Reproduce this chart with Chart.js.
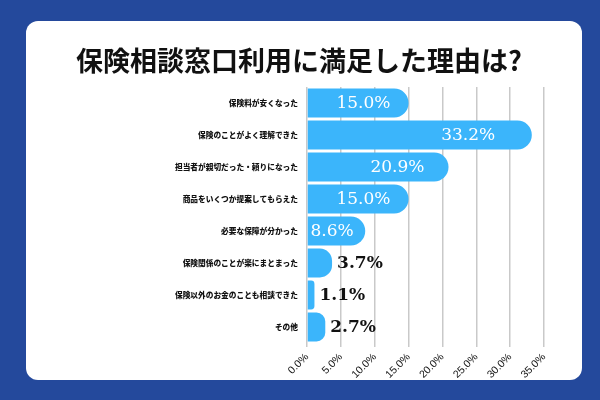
<!DOCTYPE html>
<html>
<head>
<meta charset="utf-8">
<script src="https://cdn.jsdelivr.net/npm/chart.js@4/dist/chart.umd.min.js"></script>
<style>
  html, body { margin: 0; padding: 0; background: #24499c; }
  #wrap { width: 600px; height: 400px; }
</style>
</head>
<body>
<div id="wrap"><canvas id="c" width="600" height="400"></canvas></div>
<script>
// データ
const reasons = [
  '保険料が安くなった',
  '保険のことがよく理解できた',
  '担当者が親切だった・頼りになった',
  '商品をいくつか提案してもらえた',
  '必要な保障が分かった',
  '保険関係のことが楽にまとまった',
  '保険以外のお金のことも相談できた',
  'その他'
];
const percents = [15.0, 33.2, 20.9, 15.0, 8.6, 3.7, 1.1, 2.7];
const axisMax = 35;
const axisStep = 5;
const titleText = '保険相談窓口利用に満足した理由は?';

const BG_BLUE = '#24499c';
const BAR_BLUE = '#3bb5fb';

// 背景のカードとタイトル
const cardPlugin = {
  id: 'card',
  beforeDraw(chart) {
    const ctx = chart.ctx;
    ctx.save();
    ctx.fillStyle = BG_BLUE;
    ctx.fillRect(0, 0, chart.width, chart.height);
    ctx.fillStyle = '#ffffff';
    ctx.beginPath();
    ctx.roundRect(26, 21, 556, 359, 12);
    ctx.fill();
    ctx.fillStyle = '#111111';
    ctx.font = 'bold 27px "Noto Sans CJK JP"';
    ctx.textAlign = 'center';
    ctx.textBaseline = 'middle';
    ctx.fillText(titleText, 299, 61);
    ctx.restore();
  }
};

// バーの値ラベル
const valuePlugin = {
  id: 'values',
  afterDatasetsDraw(chart) {
    const ctx = chart.ctx;
    const meta = chart.getDatasetMeta(0);
    ctx.save();
    ctx.textBaseline = 'middle';
    meta.data.forEach((bar, i) => {
      const v = percents[i];
      const txt = v.toFixed(1) + '%';
      const x0 = bar.base;
      const w = bar.x - bar.base;
      if (v > 5) {
        ctx.fillStyle = '#ffffff';
        ctx.font = '17px "DejaVu Serif"';
        ctx.textAlign = 'right';
        ctx.fillText(txt, x0 + w * 0.85 - 3, bar.y + 1);
      } else {
        ctx.fillStyle = '#111111';
        ctx.font = 'bold 17px "DejaVu Serif"';
        ctx.textAlign = 'left';
        ctx.fillText(txt, bar.x + 5, bar.y + 1);
      }
    });
    ctx.restore();
  }
};

new Chart(document.getElementById('c'), {
  type: 'bar',
  data: {
    labels: reasons,
    datasets: [{
      data: percents,
      backgroundColor: BAR_BLUE,
      borderSkipped: 'start',
      borderRadius: 15,
      categoryPercentage: 1,
      barPercentage: 0.9
    }]
  },
  options: {
    indexAxis: 'y',
    responsive: false,
    animation: false,
    devicePixelRatio: 1,
    layout: { padding: { top: 87, right: 56, bottom: 0, left: 0 } },
    plugins: {
      legend: { display: false },
      tooltip: { enabled: false }
    },
    scales: {
      x: {
        min: 0,
        max: axisMax,
        ticks: {
          stepSize: axisStep,
          minRotation: 45,
          maxRotation: 45,
          padding: 4,
          color: '#111111',
          font: { family: '"Liberation Sans"', size: 10.5 },
          callback: v => v.toFixed(1) + '%'
        },
        grid: { color: '#c9c9c9', lineWidth: 1.5, tickLength: 4 },
        border: { display: false },
        afterFit(scale) { scale.height = 57; }
      },
      y: {
        ticks: {
          padding: 9,
          color: '#111111',
          font: { family: '"Noto Sans CJK JP"', size: 7.7, weight: 900 }
        },
        grid: { display: false, drawTicks: false },
        border: { display: false },
        afterFit(scale) { scale.width = 307; }
      }
    }
  },
  plugins: [cardPlugin, valuePlugin]
});
</script>
</body>
</html>
